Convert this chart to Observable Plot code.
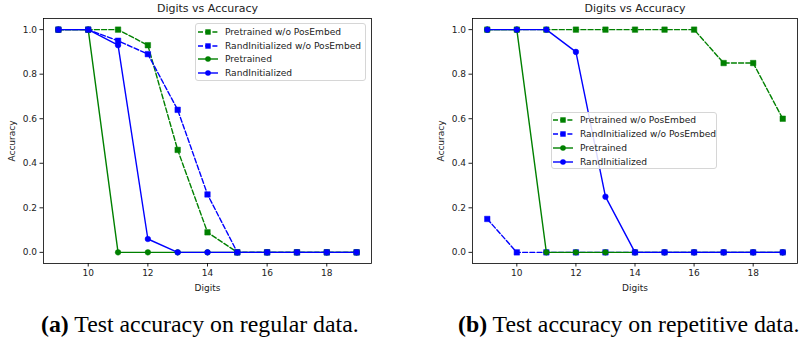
<!DOCTYPE html>
<html>
<head>
<meta charset="utf-8">
<script src="https://cdn.jsdelivr.net/npm/d3@7"></script>
<script src="https://cdn.jsdelivr.net/npm/@observablehq/plot@0.6"></script>
<style>
  html, body { margin: 0; padding: 0; background: #fff; }
  #wrap { position: relative; width: 801px; height: 339px; overflow: hidden; }
  .panel { position: absolute; top: 0; }
  .legend { position: absolute; background: rgba(255,255,255,0.85); border: 1px solid #d6d6d6; border-radius: 3px;
            font-family: "DejaVu Sans", sans-serif; font-size: 9.1px; color: #222; box-sizing: border-box; }
  .row { position: absolute; left: 0; height: 12px; white-space: nowrap; }
  .row svg { position: absolute; top: 0; }
  .row span { position: absolute; top: 0; line-height: 12px; }
  .caption { position: absolute; top: 312px; line-height: 24px; font-family: "Liberation Serif", "Times New Roman", serif; font-size: 23.8px; color: #000; white-space: nowrap; }
</style>
</head>
<body>
<div id="wrap"></div>
<script>
const digits = [9, 10, 11, 12, 13, 14, 15, 16, 17, 18, 19];
const seriesNames = ["Pretrained w/o PosEmbed", "RandInitialized w/o PosEmbed", "Pretrained", "RandInitialized"];
const xTicks = [10, 12, 14, 16, 18];
const yTicks = [0, 0.2, 0.4, 0.6, 0.8, 1.0];

// (a) regular data
const regularPretrainedNoPE = [1, 1, 1, 0.93, 0.46, 0.09, 0, 0, 0, 0, 0];
const regularRandNoPE       = [1, 1, 0.95, 0.89, 0.64, 0.26, 0, 0, 0, 0, 0];
const regularPretrained     = [1, 1, 0, 0, 0, 0, 0, 0, 0, 0, 0];
const regularRand           = [1, 1, 0.93, 0.06, 0, 0, 0, 0, 0, 0, 0];

// (b) repetitive data
const repPretrainedNoPE = [1, 1, 1, 1, 1, 1, 1, 1, 0.85, 0.85, 0.6];
const repRandNoPE       = [0.15, 0, 0, 0, 0, 0, 0, 0, 0, 0, 0];
const repPretrained     = [1, 1, 0, 0, 0, 0, 0, 0, 0, 0, 0];
const repRand           = [1, 1, 1, 0.9, 0.25, 0, 0, 0, 0, 0, 0];

const titleText = "Digits vs Accuracy";
const captions = [["(a)", " Test accuracy on regular data."], ["(b)", " Test accuracy on repetitive data."]];

const styles = [
  {color: "#008000", dash: "5,2.2", symbol: "square", r: 3.1},
  {color: "#0000ff", dash: "5,2.2", symbol: "square", r: 3.1},
  {color: "#008000", dash: null, symbol: "circle", r: 2.8},
  {color: "#0000ff", dash: null, symbol: "circle", r: 2.8}
];

function toRows(arrays) {
  return arrays.map((vals, k) => digits.map((d, i) => ({digit: d, acc: vals[i], series: seriesNames[k]})));
}

function makePlot(arrays, width, marginLeft, marginRight) {
  const rows = toRows(arrays);
  const marks = [Plot.frame({stroke: "#000", strokeWidth: 0.8})];
  rows.forEach((r, k) => {
    const s = styles[k];
    marks.push(Plot.line(r, {x: "digit", y: "acc", stroke: s.color, strokeWidth: 1.4, strokeDasharray: s.dash || undefined}));
    marks.push(Plot.dot(r, {x: "digit", y: "acc", fill: s.color, stroke: s.color, strokeWidth: 0.5, symbol: s.symbol, r: s.r}));
  });
  marks.push(Plot.text([titleText], {frameAnchor: "top", dy: -14, text: d => d, fontSize: 11, fill: "#222", lineAnchor: "top"}));
  return Plot.plot({
    width, height: 300,
    marginLeft, marginRight, marginTop: 18, marginBottom: 37,
    style: {fontFamily: "DejaVu Sans, sans-serif", fontSize: "9px", color: "#222", background: "transparent", overflow: "visible"},
    x: {domain: [8.5, 19.5], ticks: xTicks, tickFormat: "d", tickSize: 3.5, tickPadding: 3,
        label: "Digits", labelAnchor: "center", labelArrow: "none", labelOffset: 27},
    y: {domain: [-0.05, 1.05], ticks: yTicks, tickFormat: ".1f", tickSize: 3.5, tickPadding: 3,
        label: "Accuracy", labelAnchor: "center", labelArrow: "none", labelOffset: 35},
    marks
  });
}

const wrap = document.getElementById("wrap");

function addPanel(arrays, left, width, ml, mr) {
  const div = document.createElement("div");
  div.className = "panel";
  div.style.left = left + "px";
  div.appendChild(makePlot(arrays, width, ml, mr));
  wrap.appendChild(div);
}

addPanel([regularPretrainedNoPE, regularRandNoPE, regularPretrained, regularRand], 0, 400, 43, 29);
addPanel([repPretrainedNoPE, repRandNoPE, repPretrained, repRand], 400, 401, 72, 4);

function addLegend(left, top, width, height, rowTops, sampleLeft, textLeft) {
  const lg = document.createElement("div");
  lg.className = "legend";
  Object.assign(lg.style, {left: left + "px", top: top + "px", width: width + "px", height: height + "px"});
  seriesNames.forEach((name, k) => {
    const s = styles[k];
    const row = document.createElement("div");
    row.className = "row";
    row.style.top = rowTops[k] + "px";
    row.style.width = width + "px";
    const svg = d3.create("svg").attr("width", 22).attr("height", 12).style("left", sampleLeft + "px");
    svg.append("line").attr("x1", 0).attr("x2", 20).attr("y1", 6).attr("y2", 6)
      .attr("stroke", s.color).attr("stroke-width", 1.4).attr("stroke-dasharray", s.dash);
    if (s.symbol === "square") {
      svg.append("rect").attr("x", 10 - 2.7).attr("y", 6 - 2.7).attr("width", 5.4).attr("height", 5.4).attr("fill", s.color);
    } else {
      svg.append("circle").attr("cx", 10).attr("cy", 6).attr("r", 2.8).attr("fill", s.color);
    }
    row.appendChild(svg.node());
    const sp = document.createElement("span");
    sp.style.left = textLeft + "px";
    sp.textContent = name;
    row.appendChild(sp);
    lg.appendChild(row);
  });
  wrap.appendChild(lg);
}

addLegend(195, 23, 171, 58, [2, 16, 29, 43], 2, 29);
addLegend(551, 112, 166, 57, [1, 15, 29, 43], 1, 28);

const capLefts = [41, 458];
captions.forEach((c, i) => {
  const d = document.createElement("div");
  d.className = "caption";
  d.style.left = capLefts[i] + "px";
  const b = document.createElement("b");
  b.textContent = c[0];
  d.appendChild(b);
  d.appendChild(document.createTextNode(c[1]));
  wrap.appendChild(d);
});
</script>
</body>
</html>
